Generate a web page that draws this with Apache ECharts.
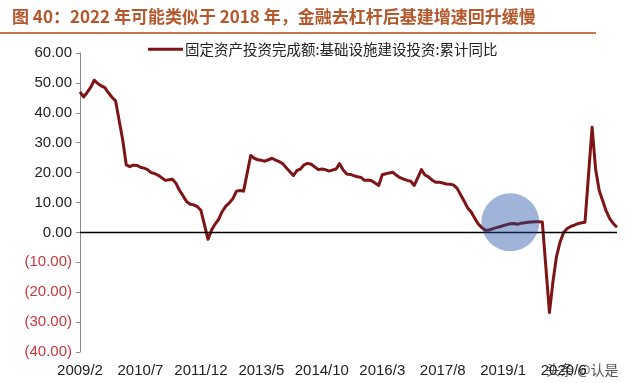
<!DOCTYPE html>
<html><head><meta charset="utf-8">
<script src="https://cdn.jsdelivr.net/npm/echarts@6/dist/echarts.min.js"></script>
<style>html,body{margin:0;padding:0;background:#fff}#c{width:640px;height:383px}</style>
</head><body><div id="c"></div>
<script>
const titleText = '图 40：2022 年可能类似于 2018 年，金融去杠杆后基建增速回升缓慢';
const seriesName = '固定资产投资完成额:基础设施建设投资:累计同比';
const watermark = '头条 @认是';

// Year-to-date growth, Feb..Dec of each year (January is not published)
const years = [2009, 2010, 2011, 2012, 2013, 2014, 2015, 2016, 2017, 2018, 2019, 2020, 2021];
const v2009 = [47, 45.3, 46.8, 48.5, 50.9, 49.8, 49, 48.4, 46.7, 45.2, 44];
const v2010 = [31, 22.6, 22, 22.5, 22.4, 21.8, 21.5, 21, 20, 19.7, 19.1];
const v2011 = [17.4, 17.6, 17.8, 16.4, 14, 12.2, 10.3, 9.4, 9.2, 8.6, 7.4];
const v2012 = [-2.3, 0.8, 2.8, 4.4, 7, 8.8, 9.9, 11.3, 13.8, 14, 13.8];
const v2013 = [25.7, 24.8, 24.3, 24.1, 23.8, 24.3, 24.8, 24.2, 23.7, 23, 21.6];
const v2014 = [19, 20.7, 21.2, 22.6, 23.1, 22.8, 21.9, 21, 21.2, 21, 20.5];
const v2015 = [21.2, 23, 20.9, 19.5, 19.4, 19, 18.6, 18.4, 17.4, 17.5, 17.3];
const v2016 = [15.7, 19.3, 19.6, 19.9, 20.1, 19.1, 18.3, 17.8, 17.4, 17.1, 15.7];
const v2017 = [21, 19.2, 18.6, 17.5, 16.8, 16.8, 16.5, 16.2, 16.1, 15.9, 14.8];
const v2018 = [10.5, 8.2, 6.8, 4.7, 2.8, 1.6, 0.7, 0.8, 1.2, 1.6, 1.9];
const v2019 = [2.6, 2.9, 3.0, 2.7, 3.1, 3.2, 3.4, 3.5, 3.6, 3.6, 3.5];
const v2020 = [-26.8, -16.4, -8, -3.2, 0, 1.3, 2, 2.4, 2.9, 3.2, 3.4];
const v2021 = [35.2, 21, 14, 10.5, 7, 4.5, 2.9, 1.7];
const yearValues = [v2009, v2010, v2011, v2012, v2013, v2014, v2015, v2016, v2017, v2018, v2019, v2020, v2021];

const xTickLabels = ['2009/2', '2010/7', '2011/12', '2013/5', '2014/10', '2016/3', '2017/8', '2019/1', '2020/6'];
const yMin = -40, yMax = 60, yStep = 10;
const highlightAt = ['2019/3', 3.4];

// monthly categories; January points are empty (connected across)
const categories = [];
const values = [];
years.forEach((y, k) => {
  const vals = yearValues[k];
  if (k > 0) { categories.push(y + '/1'); values.push(null); }
  vals.forEach((v, j) => { categories.push(y + '/' + (j + 2)); values.push(v); });
});

const chart = echarts.init(document.getElementById('c'), null, {renderer: 'canvas'});
chart.setOption({
  animation: false,
  backgroundColor: '#fff',
  title: {
    text: titleText, left: 7, top: 3,
    textStyle: {fontFamily: 'Noto Sans CJK SC', fontWeight: 'bold', fontSize: 17, color: '#B4572B'}
  },
  graphic: [
    {type: 'line', shape: {x1: 0, y1: 33, x2: 596, y2: 33}, style: {stroke: '#C9774A', lineWidth: 2}, silent: true},
    {type: 'text', left: 545, top: 362, style: {text: watermark, fontFamily: 'Noto Sans CJK SC', fontSize: 14, fill: '#555', stroke: '#fff', lineWidth: 2}, silent: true}
  ],
  legend: {
    top: 37, left: 143, icon: 'rect', itemWidth: 35, itemHeight: 3, itemGap: 2,
    textStyle: {fontFamily: 'Noto Sans CJK SC', fontSize: 14.5, color: '#222', padding: [0, 0, 0, -3]},
    data: [seriesName]
  },
  grid: {left: 80, right: 23, top: 53, bottom: 31, containLabel: false},
  xAxis: {
    type: 'category', data: categories, boundaryGap: false,
    axisLine: {show: false}, axisTick: {show: false}, splitLine: {show: false},
    axisLabel: {
      interval: (idx, val) => xTickLabels.includes(val),
      margin: 11, fontFamily: 'Liberation Sans', fontSize: 15, color: '#222'
    }
  },
  yAxis: {
    type: 'value', min: yMin, max: yMax, interval: yStep,
    axisLine: {show: true, lineStyle: {color: '#8a8a8a', width: 1}},
    axisTick: {show: true, length: 4, lineStyle: {color: '#8a8a8a'}},
    splitLine: {show: false},
    axisLabel: {
      margin: 8,
      formatter: v => v < 0 ? '{neg|(' + Math.abs(v).toFixed(2) + ')}' : '{pos|' + v.toFixed(2) + '}',
      rich: {
        pos: {fontFamily: 'Liberation Sans', fontSize: 15, color: '#222'},
        neg: {fontFamily: 'Liberation Sans', fontSize: 15, color: '#C8373A'}
      }
    }
  },
  series: [{
    name: seriesName, type: 'line', data: values, connectNulls: true,
    showSymbol: false, symbol: 'none',
    lineStyle: {color: '#7F1416', width: 3, join: 'round'},
    itemStyle: {color: '#7F1416'},
    markLine: {
      silent: true, symbol: ['none', 'none'], label: {show: false},
      lineStyle: {color: '#000', width: 1.3, type: 'solid'},
      data: [{yAxis: 0}]
    },
    markPoint: {
      silent: true, symbol: 'circle', symbolSize: 58,
      itemStyle: {color: 'rgba(23,72,160,0.41)'},
      label: {show: false},
      data: [{coord: highlightAt}]
    }
  }]
});
</script>
</body></html>
